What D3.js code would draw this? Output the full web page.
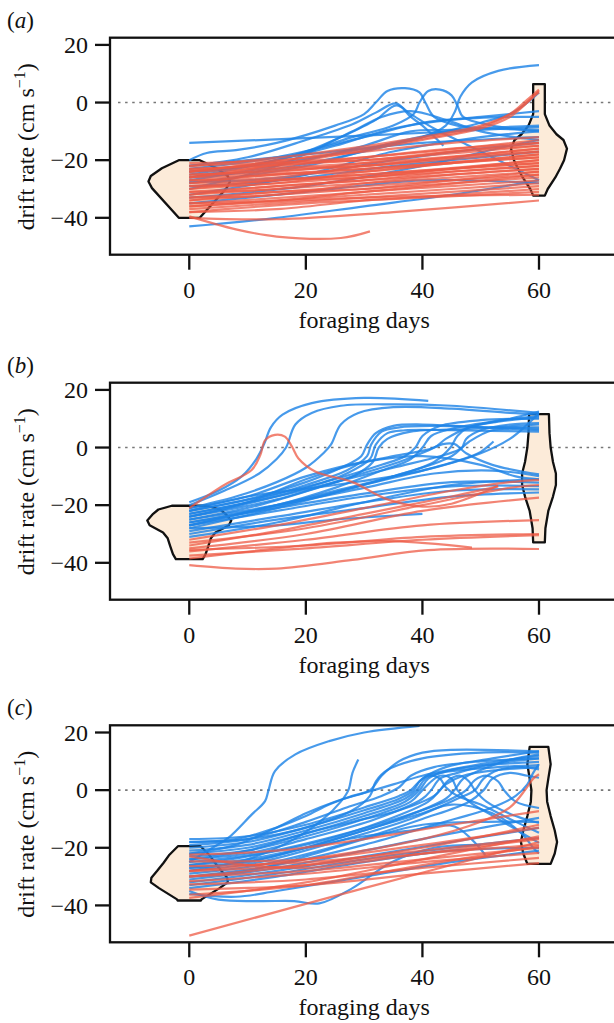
<!DOCTYPE html>
<html>
<head>
<meta charset="utf-8">
<script src="https://cdn.jsdelivr.net/npm/d3@7"></script>
<style>
  body { margin: 0; background: #fff; }
  text { font-family: "Liberation Serif", "Times New Roman", Times, serif; fill: #111; }
</style>
</head>
<body>
<div id="chart"></div>
<script>
// axis ticks
const xTicks = [0, 20, 40, 60];
const yTicks = [-40, -20, 0, 20];
const panelLabels = ['a', 'b', 'c'];

// violin profiles: [drift rate, half width in days]
const violinA0 = [[-20, 1.8], [-22.8, 4.7], [-25.5, 6.6], [-27.4, 7.0], [-29.7, 6.4], [-40, 1.8]];
const violinA60 = [[6.4, 1.0], [-4, 1.0], [-8, 1.8], [-11, 3.0], [-13, 4.2], [-16, 4.8], [-20, 4.3], [-23, 3.6], [-26, 2.8], [-30, 1.5], [-32.3, 1.0]];
const violinB0 = [[-20.2, 3.0], [-21.5, 5.3], [-23, 6.2], [-25.3, 7.2], [-27, 6.8], [-29.5, 4.5], [-31.5, 3.7], [-34, 3.3], [-37, 2.8], [-38.7, 2.3]];
const violinB60 = [[11.6, 1.7], [5, 1.8], [0, 2.0], [-5, 2.4], [-9, 2.9], [-13, 2.9], [-17, 2.4], [-22, 1.6], [-28, 1.1], [-32.9, 1.0]];
const violinC0 = [[-19.4, 1.9], [-22.4, 3.4], [-25.2, 4.4], [-28, 5.5], [-30.4, 6.5], [-32, 6.6], [-34, 5.2], [-37.9, 2.1], [-38.3, 2.0]];
const violinC60 = [[15, 1.6], [9, 2.0], [4, 1.6], [0, 1.3], [-4, 1.4], [-9, 2.0], [-14, 2.7], [-18, 3.1], [-22, 2.7], [-25.6, 2.0]];

// tracks: [foraging day, drift rate]
const blueA = [
  [[0,-14],[30,-11.5],[60,-8.5]],
  [[0,-24],[15,-21],[30,-16],[40,-12],[44,-8],[45.6,-3],[46.5,2],[48.5,7],[53,11],[60,13]],
  [[0,-20],[3,-17.5],[8,-16.5],[15,-14],[25,-8],[30,-4],[32,0],[34,4],[37,5],[39.5,3.5],[40.5,0],[42,-5],[46,-8],[52,-9],[60,-9.5]],
  [[0,-26],[15,-20],[28,-12],[35,-8],[38.5,-4],[39.5,0],[41,4],[43,4.5],[45,2.5],[46,-1],[47,-5],[52,-8],[60,-10]],
  [[0,-22],[10,-19],[20,-13],[28,-7.5],[32,-3.5],[35.5,-0.3],[38,-5],[40,-8],[43.6,-15]],
  [[0,-30],[15,-22],[25,-13],[32,-6],[35.5,-1],[38,-4],[42,-9],[48,-15],[54,-21],[60,-27]],
  [[0,-23],[15,-19],[30,-12],[40,-7],[50,-5],[60,-3]],
  [[0,-25],[15,-20],[25,-15],[35,-9],[45,-6],[55,-5],[60,-5]],
  [[0,-28],[20,-22],[35,-14],[45,-10],[60,-8]],
  [[0,-32],[20,-25],[35,-17],[50,-12],[60,-10]],
  [[0,-33],[20,-29],[40,-22],[55,-15],[60,-13]],
  [[0,-35],[20,-31],[40,-27],[60,-28]],
  [[0,-43],[15,-40],[30,-36],[45,-32],[60,-27]],
  [[0,-22],[20,-18],[40,-14],[60,-12]],
  [[0,-27],[20,-20],[30,-15],[38,-10],[45,-9.5],[50,-9]],
  [[0,-24],[10,-22],[20,-17],[28,-10],[33,-5],[38,-3],[44,-6],[50,-10],[60,-13]],
  [[0,-26],[15,-23],[30,-17],[40,-12],[50,-7],[55,-4],[58,0],[60,3.5]],
  [[0,-27.5],[10,-27],[20,-25],[35,-20],[50,-16],[60,-14]],
  [[0,-29],[10,-28],[20,-26],[35,-22],[50,-19],[60,-17]]
];
const redA = [
  [[0,-22],[20,-18],[40,-12],[50,-8],[55,-4],[58,1],[60,4.5]],
  [[0,-26],[20,-20],[40,-13],[50,-9],[55,-5],[58,0],[60,4]],
  [[0,-24],[20,-19],[40,-12.5],[50,-8.5],[56,-3],[59,2],[60,3.5]],
  [[0,-39.5],[8,-44],[15,-46.5],[26,-47],[31,-44.7]],
  [[0,-40],[15,-40.5],[35,-38],[60,-34]],
  [[0,-38],[20,-35],[40,-33],[60,-31]],
  [[0,-21],[15,-20],[30,-17],[45,-14],[60,-12]],
  [[0,-22],[30,-19],[60,-13]],
  [[0,-23],[15,-22],[30,-19],[45,-16],[60,-14]],
  [[0,-23],[30,-20],[60,-15]],
  [[0,-24],[15,-21],[30,-20],[45,-17],[60,-14]],
  [[0,-24],[30,-21],[60,-16]],
  [[0,-25],[15,-24],[30,-21],[45,-17],[60,-15]],
  [[0,-25],[30,-22],[60,-17]],
  [[0,-26],[15,-23],[30,-22],[45,-19],[60,-16]],
  [[0,-26],[30,-23],[60,-18]],
  [[0,-27],[15,-26],[30,-22],[45,-19],[60,-17]],
  [[0,-27],[30,-23],[60,-19]],
  [[0,-28],[15,-25],[30,-24],[45,-21],[60,-18]],
  [[0,-28],[30,-25],[60,-20]],
  [[0,-29],[15,-28],[30,-24],[45,-21],[60,-19]],
  [[0,-29],[30,-25],[60,-21]],
  [[0,-30],[15,-27],[30,-26],[45,-23],[60,-20]],
  [[0,-30],[30,-26],[60,-22]],
  [[0,-31],[15,-30],[30,-26],[45,-23],[60,-21]],
  [[0,-31],[30,-27],[60,-23]],
  [[0,-32],[15,-29],[30,-27],[45,-24],[60,-22]],
  [[0,-32],[30,-28],[60,-24]],
  [[0,-33],[15,-32],[30,-28],[45,-25],[60,-23]],
  [[0,-33],[30,-29],[60,-25]],
  [[0,-34],[15,-31],[30,-30],[45,-27],[60,-24]],
  [[0,-34],[30,-30],[60,-26]],
  [[0,-35],[15,-34],[30,-31],[45,-29],[60,-27]],
  [[0,-35],[30,-31],[60,-25]],
  [[0,-36],[15,-34],[30,-32],[45,-30],[60,-28]],
  [[0,-37],[30,-33],[60,-29]],
  [[0,-38],[15,-37],[30,-34],[45,-32],[60,-30]],
  [[0,-36],[30,-33],[60,-32]]
];

const blueB = [
  [[0,-19],[5,-15],[9,-10],[11.5,-4],[12.8,1],[14,7],[16,11.4],[21,15.4],[30,17.2],[41,16.2]],
  [[0,-20],[6,-15],[12,-9],[15,-4],[16.6,0],[18.2,8],[21,12],[26,14.5],[35,15],[45,14.5],[60,12]],
  [[0,-21],[8,-17],[15,-12],[20,-7],[23,-2],[24.3,1],[26,8],[29,12],[35,14],[45,13.5],[55,12],[60,11.5]],
  [[0,-22],[10,-18],[20,-12],[26,-7],[29.5,-3],[30.5,1],[32,5],[35,7.5],[40,8],[50,7],[60,6]],
  [[0,-23],[10,-19],[20,-13],[27,-8],[30.5,-3],[31.2,1],[33,5.5],[36,7],[42,7.5],[52,7],[60,7]],
  [[0,-24],[10,-19.5],[20,-14],[27,-9],[31,-4],[32,1],[34,5],[37,6],[45,6],[60,5.5]],
  [[0,-25],[12,-20],[22,-14],[28,-10],[31.5,-5],[32.5,0],[34,3],[38,5.5],[48,6.5],[60,8]],
  [[0,-22],[15,-16],[25,-11],[33,-6],[37,-3],[38.8,0],[40,4],[43,7.5],[50,9.5],[60,10]],
  [[0,-26],[15,-20],[25,-14],[33,-8],[38,-4],[40,0],[41.5,4],[45,6.5],[52,9],[60,11]],
  [[0,-24],[15,-18],[28,-10],[36,-5],[41,-1],[43.5,1.2],[45.5,1.2],[47.5,-2],[52,-6],[60,-9.3]],
  [[0,-27],[15,-20],[25,-15],[35,-10],[42,-5],[44.8,0],[46,4],[48,7],[53,9],[60,10.5]],
  [[0,-23],[15,-17],[25,-12],[35,-7],[43,-3],[46,-1],[46.8,0],[47.5,3],[50,6],[55,8],[60,8.5]],
  [[0,-28],[15,-21],[30,-13],[40,-8],[47,-4],[50,-1.5],[51.3,0.5],[52.2,2.1]],
  [[0,-25],[15,-20],[30,-14],[42,-9],[52,-8],[60,-9.9]],
  [[0,-26],[15,-21],[30,-16],[45,-12],[60,-12.2]],
  [[0,-27],[15,-22],[30,-17],[45,-13.5],[60,-13.4]],
  [[0,-29],[15,-24],[30,-19],[45,-15],[60,-14.5]],
  [[0,-30],[15,-25],[30,-21],[45,-17],[60,-15.6]],
  [[0,-28],[15,-27],[25,-25],[32,-24],[40,-23]],
  [[0,-21],[10,-17],[20,-10],[30,-5],[40,-3],[50,-6],[56,-10],[60,-11]],
  [[0,-31],[15,-26],[30,-19],[45,-13],[60,-11]],
  [[0,-24],[10,-19],[20,-11],[28,-6],[35,-3],[42,0],[44,3],[48,7],[55,10],[60,12.5]],
  [[0,-27],[20,-18],[35,-10],[45,-3],[48,2],[52,6],[60,6.5]],
  [[0,-22],[10,-17],[25,-13],[40,-8],[50,-2],[55,3],[58,8],[60,12]]
];
const redB = [
  [[0,-21],[6,-13],[10.7,-7.8],[12.2,-2.5],[13,2.5],[14.7,4.4],[16.4,3.8],[17.6,0.4],[18.7,-3.7],[21.6,-8.3],[28,-12],[34,-18],[40,-20.5],[45,-19.5],[53,-13.3]],
  [[0,-32],[15,-27],[30,-21],[45,-15],[55,-12],[60,-11.2]],
  [[0,-34],[15,-29],[30,-23],[45,-17],[53,-13.5]],
  [[0,-35],[20,-30],[40,-22],[60,-17.4]],
  [[0,-36],[20,-32],[40,-27],[60,-25.2]],
  [[0,-37.5],[20,-35],[40,-32],[60,-30.4]],
  [[0,-38.5],[15,-35],[25,-33],[35,-32.5],[48.5,-34.7]],
  [[0,-40.8],[8,-42],[15,-42],[28,-39],[41,-35.6],[60,-35.2]],
  [[0,-33],[20,-28],[40,-20],[55,-14],[60,-13]],
  [[0,-35.5],[20,-34],[40,-31],[60,-30]]
];

const blueC = [
  [[0,-25],[4,-20],[6.7,-16.6],[10.7,-8.5],[13,-3.8],[13.6,0],[14.7,6.6],[18.2,12.4],[24,17],[30,20],[39.5,22.3]],
  [[0,-28],[10,-24],[18,-17],[23,-10],[26,-4],[27.3,0],[28,6],[29,10.6]],
  [[0,-17],[10,-16],[20,-12],[30,-6],[36,-2],[38,0],[40,4],[44,8],[52,11],[60,13.5]],
  [[0,-18],[10,-17],[20,-13],[28,-7],[31,-2],[32,3],[34,7],[40,11],[50,13],[60,13]],
  [[0,-20],[10,-18],[20,-13],[30,-7],[36,-3],[38.5,0],[39.5,3],[41,5],[43,4],[44,1],[46,-2],[50,-5],[55,-10],[60,-14.8]],
  [[0,-21],[10,-19],[20,-14],[30,-8],[37,-3],[39,0],[40.5,4],[43,6],[47,7],[53,8],[60,8.7]],
  [[0,-22],[10,-20],[20,-15],[30,-9],[37,-4],[39.5,0],[41,4],[44,6.5],[50,8.5],[60,9.8]],
  [[0,-23],[10,-21],[20,-16],[30,-10],[38,-4],[40,0],[41.5,3],[43,5],[45,4],[46,0],[48,-4],[53,-10],[58,-16],[60,-18.3]],
  [[0,-24],[10,-22],[20,-17],[32,-10],[40,-3],[41.5,0],[43,4],[46,6],[52,9],[60,11]],
  [[0,-26],[10,-23],[22,-18],[33,-11],[41,-4],[43,0],[44.5,3.5],[46.5,5],[48,3],[49,0],[51,-4],[56,-9],[60,-11.4]],
  [[0,-27],[12,-24],[25,-17],[36,-10],[44,-3],[45.5,0],[47,4],[50,7],[55,10.5],[60,12.4]],
  [[0,-25],[12,-22],[25,-16],[37,-9],[45,-3],[47.5,0],[49,3.5],[51,5],[53,3],[54,0],[56,-4],[60,-6.2]],
  [[0,-28],[12,-25],[25,-18],[38,-10],[46,-3],[49,0],[50.5,4],[53,7],[57,8],[60,7.2]],
  [[0,-29],[12,-26],[26,-19],[40,-10],[48,-4],[50.5,0],[52,4],[55,6],[58,5],[60,4.3]],
  [[0,-30],[15,-26],[30,-19],[42,-12],[52,-6],[56,-2],[58,2],[59,6],[60,9]],
  [[0,-31],[15,-27],[30,-21],[45,-15],[60,-9.6]],
  [[0,-32],[15,-28],[30,-23],[45,-18],[60,-13.1]],
  [[0,-33],[15,-29],[30,-24],[45,-20],[60,-16.6]],
  [[0,-34],[15,-30],[30,-25],[45,-21],[60,-20]],
  [[0,-35],[5,-38],[12,-38.5],[18,-38.5],[22.3,-39.3],[28,-34],[34.7,-25],[42,-20],[50,-19]],
  [[0,-19],[10,-17],[20,-11],[27,-6],[33,-2],[36,1],[38,5],[42,8],[50,10],[60,11]],
  [[0,-22],[8,-19],[16,-12],[20,-8],[25,-4],[30,-1],[35,2],[40,5],[50,9],[60,12]],
  [[0,-24],[10,-21],[20,-15],[28,-11],[36,-7],[42,-2],[44,2],[47,5],[53,7],[60,8]],
  [[0,-27],[10,-25],[20,-20],[30,-14],[40,-8],[45,-5],[52,-8],[57,-15],[59,-20],[60,-22]],
  [[0,-30],[10,-28],[20,-23],[30,-17],[40,-12],[50,-11],[60,-11]],
  [[0,-18],[8,-17],[15,-13],[20,-9],[24,-5],[28,-2],[31,0],[33,5],[36,10],[40,13],[45,14],[60,13.5]],
  [[0,-26],[10,-24],[20,-20],[30,-16],[38,-14],[45.5,-12.6],[50.8,-22.5]],
  [[0,-36],[8,-37],[15,-35],[30,-30],[45,-25],[60,-21]]
];
const redC = [
  [[0,-28],[20,-24],[40,-17],[50,-11],[55,-6],[57.6,0],[59,4],[60,5.5]],
  [[0,-50.5],[30,-34],[60,-18]],
  [[0,-22.4],[15,-21],[30,-17],[45,-12],[60,-7.3]],
  [[0,-24.7],[20,-24],[40,-19],[60,-13]],
  [[0,-26.4],[20,-25],[40,-21],[60,-16.6]],
  [[0,-28.1],[20,-26],[40,-22],[60,-19]],
  [[0,-29.9],[20,-28],[40,-24],[60,-20]],
  [[0,-31.6],[20,-29],[40,-25],[60,-21.8]],
  [[0,-32.7],[20,-31],[40,-27],[60,-23.5]],
  [[0,-34.5],[20,-33],[40,-29],[60,-25.3]],
  [[0,-36.3],[20,-33],[40,-26],[60,-19.5]],
  [[0,-37.4],[20,-32],[40,-24],[60,-16]],
  [[0,-23],[10,-26],[20,-27],[40,-22],[60,-17]],
  [[0,-30],[20,-26],[40,-20],[60,-12]]
];

const width = 614;
const height = 1023;
const blue = '#1f84e6';
const red = '#ee5a44';

const panels = [
  { label: panelLabels[0], y0: 102.7, blue: blueA, red: redA, left: violinA0, right: violinA60 },
  { label: panelLabels[1], y0: 447.7, blue: blueB, red: redB, left: violinB0, right: violinB60 },
  { label: panelLabels[2], y0: 790.3, blue: blueC, red: redC, left: violinC0, right: violinC60 }
];

const svg = d3.select('#chart').append('svg')
  .attr('width', width).attr('height', height)
  .attr('font-family', '"Liberation Serif", "Times New Roman", Times, serif');

const x = d3.scaleLinear().domain([-13.6, 60]).range([110, 539]);

panels.forEach(p => {
  const y = d3.scaleLinear().domain([-52.8, 22.5]).range([p.y0 + 152, p.y0 - 65]);
  const g = svg.append('g');
  const top = y(22.5), bottom = y(-52.8), left = x(-13.6);

  // zero line
  g.append('line')
    .attr('x1', left + 8).attr('x2', width)
    .attr('y1', y(0)).attr('y2', y(0))
    .attr('stroke', '#777').attr('stroke-width', 1.6)
    .attr('stroke-dasharray', '2.5,4.6');

  // violins
  const violin = (prof, day) => {
    const pts = prof.map(d => [day + d[1], d[0]])
      .concat(prof.slice().reverse().map(d => [day - d[1], d[0]]));
    g.append('path')
      .attr('d', d3.line().x(d => x(d[0])).y(d => y(d[1])).curve(d3.curveLinearClosed)(pts))
      .attr('fill', '#fcebd9')
      .attr('stroke', '#111')
      .attr('stroke-width', 2.3)
      .attr('stroke-linejoin', 'round');
  };
  violin(p.left, 0);
  violin(p.right, 60);

  const line = d3.line().x(d => x(d[0])).y(d => y(d[1])).curve(d3.curveCatmullRom.alpha(0.5));

  p.blue.forEach(track => {
    g.append('path').attr('d', line(track))
      .attr('fill', 'none').attr('stroke', blue)
      .attr('stroke-width', 2.2).attr('stroke-opacity', 0.82);
  });
  p.red.forEach(track => {
    g.append('path').attr('d', line(track))
      .attr('fill', 'none').attr('stroke', red)
      .attr('stroke-width', 2.2).attr('stroke-opacity', 0.75);
  });

  // frame
  g.append('rect')
    .attr('x', left).attr('y', top)
    .attr('width', 520).attr('height', bottom - top)
    .attr('fill', 'none').attr('stroke', '#111').attr('stroke-width', 2.3);

  // y ticks
  yTicks.forEach(t => {
    g.append('line')
      .attr('x1', left - 15).attr('x2', left)
      .attr('y1', y(t)).attr('y2', y(t))
      .attr('stroke', '#111').attr('stroke-width', 2.3);
    g.append('text')
      .attr('x', 88).attr('y', y(t)).attr('dy', '0.34em')
      .attr('text-anchor', 'end').attr('font-size', 24)
      .text(t < 0 ? '\u2212' + Math.abs(t) : t);
  });

  // x ticks
  xTicks.forEach(t => {
    g.append('line')
      .attr('x1', x(t)).attr('x2', x(t))
      .attr('y1', bottom).attr('y2', bottom + 15)
      .attr('stroke', '#111').attr('stroke-width', 2.3);
    g.append('text')
      .attr('x', x(t)).attr('y', p.y0 + 195)
      .attr('text-anchor', 'middle').attr('font-size', 24)
      .text(t);
  });

  g.append('text')
    .attr('x', x(30)).attr('y', p.y0 + 225)
    .attr('text-anchor', 'middle').attr('font-size', 24)
    .text('foraging days');

  const title = g.append('text')
    .attr('transform', `translate(34,${p.y0 + 44}) rotate(-90)`)
    .attr('text-anchor', 'middle').attr('font-size', 24);
  title.append('tspan').text('drift rate (cm s');
  title.append('tspan').attr('font-size', 16).attr('dy', -9).text('\u22121');
  title.append('tspan').attr('dy', 9).text(')');

  const lab = g.append('text')
    .attr('x', 7).attr('y', p.y0 - 75).attr('font-size', 23);
  lab.append('tspan').text('(');
  lab.append('tspan').attr('font-style', 'italic').text(p.label);
  lab.append('tspan').text(')');
});
</script>
</body>
</html>
